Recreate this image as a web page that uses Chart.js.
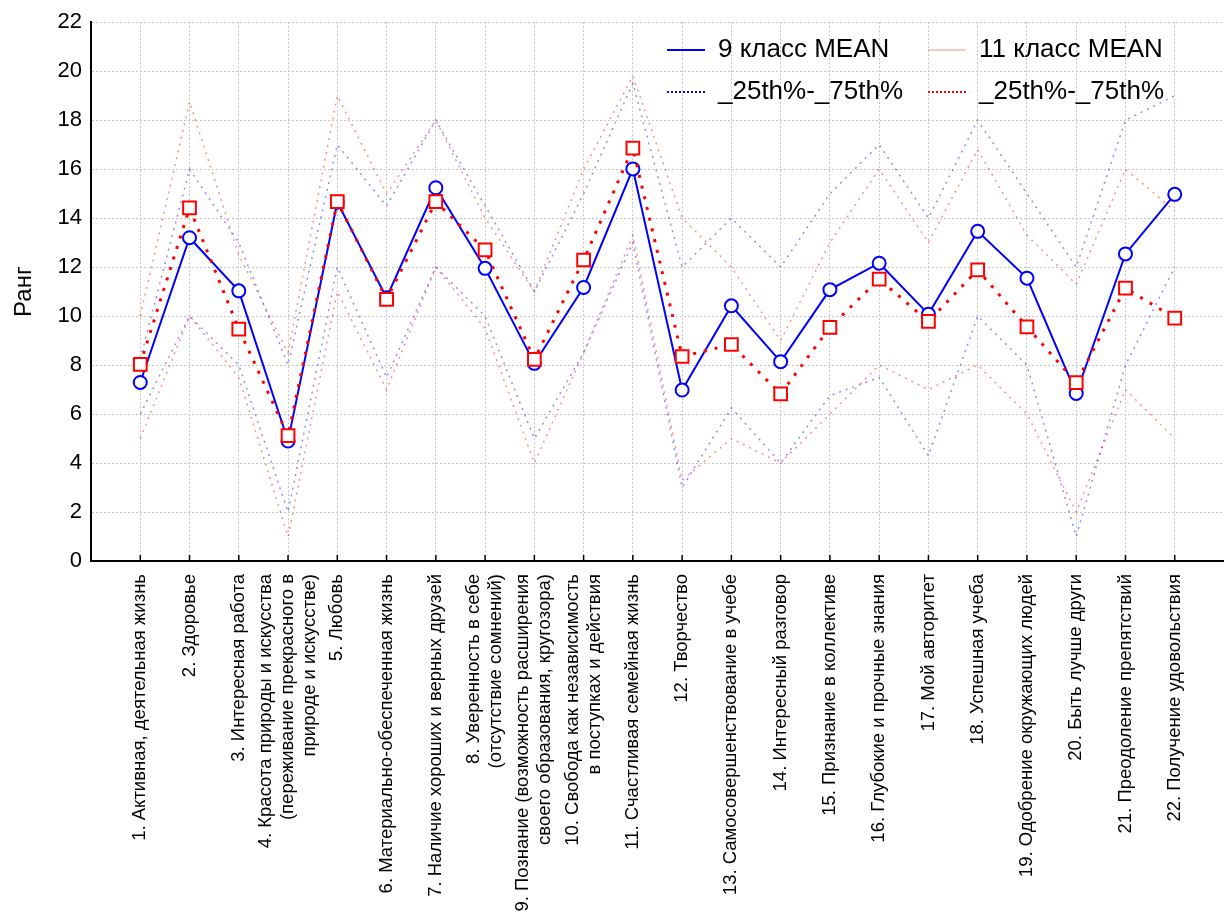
<!DOCTYPE html>
<html><head><meta charset="utf-8">
<script src="https://cdn.jsdelivr.net/npm/chart.js@4.4.0/dist/chart.umd.min.js"></script>
<style>html,body{margin:0;padding:0;background:#fff}#wrap{width:1224px;height:920px}</style>
</head><body><div id="wrap"><canvas id="c" width="1224" height="920"></canvas></div>
<script>
const categories = [
 ['1. Активная, деятельная жизнь'],
 ['2. Здоровье'],
 ['3. Интересная работа'],
 ['4. Красота природы и искусства','(переживание прекрасного в','природе и искусстве)'],
 ['5. Любовь'],
 ['6. Материально-обеспеченная жизнь'],
 ['7. Наличие хороших и верных друзей'],
 ['8. Уверенность в себе','(отсутствие сомнений)'],
 ['9. Познание (возможность расширения','своего образования, кругозора)'],
 ['10. Свобода как независимость','в поступках и действия'],
 ['11. Счастливая семейная жизнь'],
 ['12. Творчество'],
 ['13. Самосовершенствование в учебе'],
 ['14. Интересный разговор'],
 ['15. Признание в коллективе'],
 ['16. Глубокие и прочные знания'],
 ['17. Мой авторитет'],
 ['18. Успешная учеба'],
 ['19. Одобрение окружающих людей'],
 ['20. Быть лучше други'],
 ['21. Преодоление препятствий'],
 ['22. Получение удовольствия']
];
const yTicks = [0,2,4,6,8,10,12,14,16,18,20,22];
const mean9  = [7.29,13.2,11.03,4.9,14.65,10.75,15.24,11.95,8.07,11.17,16.01,6.98,10.42,8.14,11.08,12.16,10.08,13.46,11.55,6.84,12.54,14.97];
const mean11 = [8.03,14.42,9.47,5.12,14.67,10.68,14.67,12.7,8.23,12.29,16.86,8.35,8.84,6.82,9.54,11.51,9.78,11.89,9.56,7.28,11.14,9.92];
const q25_9  = [6,10,8,2,12,7.5,12,10,5,8.5,13,3,6.25,4,6.75,7.5,4.3,10,8,1,8,12];
const q75_9  = [8.25,16,13,8,17,14.5,18,14.5,11,15,19.5,12,14,12,15,17,14,18,15,12,18,19];
const q25_11 = [5,10,7.5,1,11,7,12,9.5,4,8.5,13.3,3.3,5,4,6,8,7,8,6,2,7,5];
const q75_11 = [10,18.75,12.5,8.5,19,15,18,14,11,16,19.8,14,12,9,13,16,13,16.8,13.3,11.3,16,14.3];

const FONT = "'Liberation Sans', Arial, sans-serif";
const toXY = arr => arr.map((v,i)=>({x:i+1, y:v}));

const labelPlugin = {
  id:'xlabels',
  afterDraw(chart){
    const ctx = chart.ctx, xs = chart.scales.x, area = chart.chartArea;
    ctx.save();
    ctx.strokeStyle = '#000'; ctx.lineWidth = 1.5;
    categories.forEach((c,i)=>{
      const px = xs.getPixelForValue(i+1);
      ctx.beginPath(); ctx.moveTo(px, area.bottom); ctx.lineTo(px, area.bottom-6); ctx.stroke();
    });
    ctx.fillStyle = '#000';
    ctx.font = '18.5px ' + FONT;
    ctx.textAlign = 'right'; ctx.textBaseline = 'middle';
    const lh = 22;
    categories.forEach((lines,i)=>{
      const px = xs.getPixelForValue(i+1);
      lines.forEach((ln,j)=>{
        const off = (j - (lines.length-1)/2)*lh;
        ctx.save();
        ctx.translate(px+off, area.bottom+13);
        ctx.rotate(-Math.PI/2);
        ctx.fillText(ln, 0, 0);
        ctx.restore();
      });
    });
    ctx.font = '26px ' + FONT;
    ctx.textAlign = 'left';
    const items = [
      {x:667, y:50, text:'9 класс MEAN', col:'#0000ff', w:2, dash:[]},
      {x:928, y:50, text:'11 класс MEAN', col:'rgba(255,0,0,0.45)', w:1, dash:[]},
      {x:667, y:92, text:'_25th%-_75th%', col:'#0000ff', w:2, dash:[2,2]},
      {x:928, y:92, text:'_25th%-_75th%', col:'#ff0000', w:2, dash:[2,2]}
    ];
    items.forEach(it=>{
      ctx.strokeStyle = it.col; ctx.lineWidth = it.w; ctx.setLineDash(it.dash);
      ctx.beginPath(); ctx.moveTo(it.x, it.y); ctx.lineTo(it.x+38, it.y); ctx.stroke();
      ctx.setLineDash([]);
      ctx.fillStyle = '#000';
      ctx.fillText(it.text, it.x+51, it.y);
    });
    ctx.restore();
  }
};

const pctStyle = (col) => ({borderColor:col, borderWidth:1.5, borderDash:[2,5], pointRadius:0, fill:false, tension:0});

new Chart(document.getElementById('c'), {
  type:'line',
  data:{datasets:[
    {label:'11 класс MEAN', data:toXY(mean11), borderColor:'#ff0000', borderWidth:3, borderDash:[3,8],
     pointStyle:'rect', pointRadius:9, pointBorderColor:'#ff0000', pointBackgroundColor:'#ffffff', pointBorderWidth:2, order:0, tension:0},
    {label:'9 класс MEAN', data:toXY(mean9), borderColor:'#0000ff', borderWidth:2,
     pointStyle:'circle', pointRadius:6.5, pointBorderColor:'#0000ff', pointBackgroundColor:'#ffffff', pointBorderWidth:2, order:1, tension:0},
    Object.assign({label:'_25th%-_75th% (9) 25', data:toXY(q25_9), order:3}, pctStyle('rgba(0,0,255,0.45)')),
    Object.assign({label:'_25th%-_75th% (9) 75', data:toXY(q75_9), order:3}, pctStyle('rgba(0,0,255,0.45)')),
    Object.assign({label:'_25th%-_75th% (11) 25', data:toXY(q25_11), order:2}, pctStyle('rgba(255,0,0,0.45)')),
    Object.assign({label:'_25th%-_75th% (11) 75', data:toXY(q75_11), order:2}, pctStyle('rgba(255,0,0,0.45)'))
  ]},
  options:{
    responsive:false, animation:false, devicePixelRatio:1,
    layout:{autoPadding:false, padding:{top:22,right:0,bottom:0,left:0}},
    plugins:{legend:{display:false}, tooltip:{enabled:false}},
    scales:{
      x:{type:'linear', min:0, max:23,
        afterBuildTicks:(s)=>{ s.ticks = categories.map((c,i)=>({value:i+1})); },
        ticks:{display:false},
        grid:{color:'#c4c4c4', lineWidth:1, drawTicks:false},
        border:{color:'#000', width:2, dash:[2,2]},
        afterFit:(s)=>{ s.height = 359; }
      },
      y:{min:0, max:22,
        afterBuildTicks:(s)=>{ s.ticks = yTicks.map(v=>({value:v})); },
        ticks:{color:'#000', font:{size:22, family:FONT}, padding:9},
        grid:{color:'#c4c4c4', lineWidth:1, drawTicks:false},
        border:{color:'#000', width:2, dash:[2,2]},
        title:{display:true, text:'Ранг', color:'#000', font:{size:24, family:FONT}, padding:{top:10,bottom:0}},
        afterFit:(s)=>{ s.width = 91; }
      }
    }
  },
  plugins:[labelPlugin]
});
</script>
</body></html>
